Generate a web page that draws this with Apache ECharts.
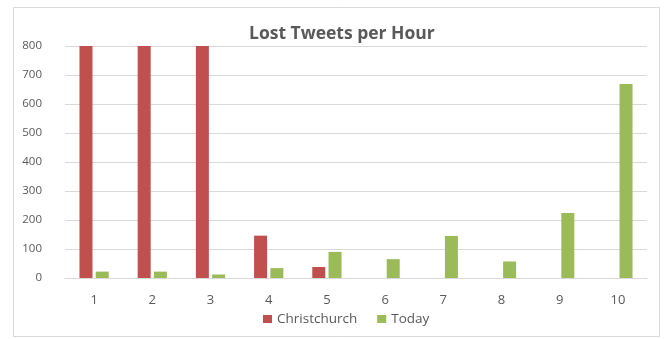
<!DOCTYPE html>
<html><head><meta charset="utf-8">
<script src="https://cdn.jsdelivr.net/npm/echarts@6/dist/echarts.min.js"></script>
<style>html,body{margin:0;padding:0;background:#fff}#c{width:666px;height:339px}</style>
</head><body><div id="c"></div>
<script>
const categories = ['1','2','3','4','5','6','7','8','9','10'];
const christchurch = [800, 800, 800, 146, 38, 0, 0, 0, 0, 0];
const today = [22, 22, 12, 34, 90, 65, 145, 57, 224, 669];
const yTicks = [0, 100, 200, 300, 400, 500, 600, 700, 800];

const chart = echarts.init(document.getElementById('c'));
chart.setOption({
  animation: false,
  backgroundColor: '#fff',
  graphic: [{type:'rect', shape:{x:13.5,y:7.5,width:646,height:329}, style:{fill:'none', stroke:'#d9d9d9', lineWidth:1}, silent:true}],
  title: {text:'Lost Tweets per Hour', left:244, top:20,
    textStyle:{fontFamily:'Open Sans', fontSize:17.5, fontWeight:'bold', color:'#595959'}},
  legend: {bottom:8, left:258, itemWidth:9, itemHeight:8, itemGap:20, icon:'rect',
    textStyle:{fontFamily:'Open Sans', fontSize:13.5, color:'#595959'},
    data:['Christchurch','Today']},
  grid: {left:65, right:19, top:46, bottom:61, containLabel:false},
  xAxis: {type:'category', data:categories,
    axisLine:{lineStyle:{color:'#d9d9d9'}}, axisTick:{show:false},
    axisLabel:{fontFamily:'Open Sans', fontSize:13, color:'#595959', margin:16}},
  yAxis: {type:'value', min:yTicks[0], max:yTicks[yTicks.length-1], interval:100,
    axisLine:{show:false}, axisTick:{show:false},
    splitLine:{lineStyle:{color:'#d9d9d9'}},
    axisLabel:{fontFamily:'Open Sans', fontSize:11.5, color:'#595959', margin:23}},
  series: [
    {name:'Christchurch', type:'bar', data:christchurch, barWidth:13, barGap:'25%', itemStyle:{color:'#C0504D'}},
    {name:'Today', type:'bar', data:today, barWidth:13, itemStyle:{color:'#9BBB59'}}
  ]
});
</script></body></html>
